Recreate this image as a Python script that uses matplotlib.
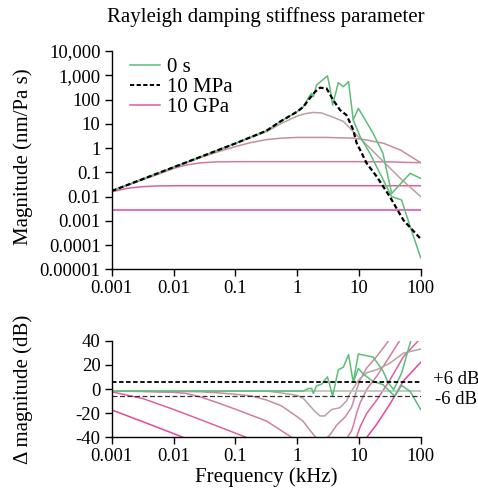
import matplotlib
matplotlib.use('Agg')
import matplotlib.pyplot as plt
from matplotlib.lines import Line2D
from matplotlib.ticker import FixedLocator, FixedFormatter, NullLocator

plt.rcParams['font.family'] = ['Liberation Serif', 'DejaVu Serif']
plt.rcParams['font.size'] = 13.5

# ---- top panel: magnitude (nm/Pa s) vs frequency (kHz) ----
ref_f = [0.001, 0.01, 0.1, 0.32, 0.53, 1.0, 1.26, 1.6, 1.95, 2.35, 3.0, 3.85, 4.95,
         6.3, 7.2, 8.1, 9.2, 10.5, 13.4, 19.5, 31.6, 52.5, 100]
ref_m = [0.017, 0.162, 1.55, 5.2, 12.3, 31.6, 50, 112, 209, 309, 288, 95, 37,
         23, 11, 5.6, 1.6, 0.83, 0.234, 0.066, 0.01, 0.00107, 0.00018]

green_f = [0.001, 0.01, 0.1, 0.32, 0.53, 1.0, 1.26, 1.43, 1.5, 1.72, 1.83, 2.07,
           2.5, 3.1, 3.4, 3.75, 4.65, 5.6, 6.8, 8.1, 9.8, 17, 24.5, 33.9, 67.6, 100]
green_m = [0.017, 0.162, 1.55, 5.2, 12.3, 31.6, 50, 89, 112, 182, 132, 398,
           600, 955, 300, 59, 500, 339, 550, 14.5, 43.7, 4.07, 0.6, 0.0135, 0.091, 0.056]

green2_f = [8.1, 10.5, 15.1, 21.9, 33.9, 49, 67.6, 100]
green2_m = [14.5, 2.95, 0.6, 0.091, 0.01, 0.0072, 0.00058, 0.00003]

damp_f = [
    [0.001, 0.01, 0.1, 0.32, 0.56, 1.0, 1.33, 1.83, 2.5, 3.85, 5.6, 8.1, 13.4, 25, 47, 100],
    [0.001, 0.01, 0.027, 0.05, 0.1, 0.18, 0.32, 0.56, 1.0, 3.0, 8.1, 13.4, 25, 47, 100],
    [0.001, 0.0032, 0.0056, 0.01, 0.016, 0.027, 0.05, 0.1, 1, 10, 30, 60, 100],
    [0.001, 0.0018, 0.0032, 0.0056, 0.01, 0.1, 100],
    [0.001, 100],
]
damp_m = [
    [0.017, 0.162, 1.55, 4.8, 10.5, 20.9, 26, 29.5, 28, 18.6, 12.6, 4.8, 1.35, 0.275, 0.056, 0.01],
    [0.017, 0.158, 0.40, 0.68, 1.15, 1.70, 2.24, 2.57, 2.75, 2.75, 2.57, 2.14, 1.58, 0.83, 0.25],
    [0.017, 0.05, 0.083, 0.145, 0.2, 0.245, 0.27, 0.275, 0.275, 0.275, 0.27, 0.257, 0.25],
    [0.0158, 0.022, 0.0257, 0.0275, 0.028, 0.028, 0.028],
    [0.0028, 0.0028],
]
damp_colors = ['#b9a2a2', '#c58da0', '#d47ba2', '#e0609e', '#e8459b']

# ---- bottom panel: delta magnitude (dB) ----
flat_f = [0.001, 100]
flat_db = [-1.7, -1.7]

dgreen_f = [0.001, 0.6, 1.26, 1.43, 1.5, 1.72, 1.83, 2.07, 2.5, 3.1, 3.4, 3.75, 4.65,
            5.6, 6.8, 8.1, 9.8, 17, 24.5, 30, 36.5, 49, 70]
dgreen_db = [-1.7, -1.7, -1.7, -0.3, 0.3, 0.5, -3.7, 2.7, 4.1, 10, 2.7, -6, 16,
             18, 28.5, 5.5, 29, 26.5, 15, 5, -0.5, 13, 41]
dgreen2_f = [8.1, 9.8, 12, 17, 24.5, 38, 49, 67.6, 100]
dgreen2_db = [5.5, 17, 12, 6.3, 3.6, -6, 3, -2, -17]

ddamp_f = [
    [0.001, 0.32, 0.53, 1.0, 1.26, 1.6, 1.95, 2.35, 2.8, 3.6, 4.9, 6.3, 7.2, 9.2, 10.5,
     13.4, 19.5, 31.6, 52.5, 100],
    [0.001, 0.01, 0.027, 0.05, 0.1, 0.18, 0.32, 0.56, 1.0, 1.26, 1.6, 1.95, 2.35, 2.8,
     3.4, 4.4, 6.0, 7.6, 8.1, 9.2, 10.5, 13.4, 19.5, 25, 31.6],
    [0.001, 0.0032, 0.0056, 0.01, 0.016, 0.027, 0.05, 0.1, 0.32, 1.0, 3.0, 6.0, 7.6,
     8.1, 9.2, 10.5, 13.4, 19.5, 31.6, 52.5],
    [0.001, 0.0032, 0.01, 0.032, 0.1, 0.15, 0.32, 1.0, 8.1, 9.2, 10.5, 13.4, 19.5,
     31.6, 52.5, 100],
    [0.001, 0.0032, 0.01, 0.0145, 0.032, 1.0, 10.5, 13.4, 19.5, 31.6, 52.5, 100],
]
ddamp_db = [
    [-1.7, -1.7, -3.1, -5.3, -7.7, -13.7, -18.7, -22.3, -22.3, -17, -15.5, -10, -3.5,
     5, 8.9, 13.5, 16, 21.3, 29.7, 33.1],
    [-1.7, -1.9, -2.3, -3.1, -4.3, -5.7, -9.1, -14, -22.9, -26.9, -33.9, -39.3, -42.7,
     -42.1, -38.1, -29.7, -23.1, -15.1, -10.9, -0.5, 7.9, 17.5, 27.1, 34.3, 41.3],
    [-1.7, -2.1, -2.5, -2.7, -3.7, -6.5, -11.1, -16.7, -26.5, -42.9, -60, -42.9, -34.7,
     -30.5, -19.9, -11.3, -0.3, 10.7, 27.1, 45],
    [-2.3, -7.9, -16.9, -26.7, -36.5, -40, -46.3, -62.7, -51.7, -39.7, -31.1, -20.1,
     -9.1, 7.3, 26.7, 42.1],
    [-17.3, -27.1, -36.9, -40.1, -46.7, -81, -51.1, -40.1, -29.1, -12.7, 6.7, 22.1],
]

x_ticks = [0.001, 0.01, 0.1, 1, 10, 100]
x_labels = ['0.001', '0.01', '0.1', '1', '10', '100']
y_ticks = [10000, 1000, 100, 10, 1, 0.1, 0.01, 0.001, 0.0001, 0.00001]
y_labels = ['10,000', '1,000', '100', '10', '1', '0.1', '0.01', '0.001', '0.0001', '0.00001']
db_ticks = [40, 20, 0, -20, -40]
db_labels = ['40', '20', '0', '-20', '-40']

green = '#5dbd7a'
label_size = 15

fig = plt.figure(figsize=(4.78, 4.96), dpi=100)
ax1 = fig.add_axes([0.2337, 0.457, 0.6464, 0.440])
ax2 = fig.add_axes([0.2337, 0.1183, 0.6464, 0.1948])

for ax in (ax1, ax2):
    ax.set_xscale('log')
    ax.set_xlim(0.001, 100)
    ax.xaxis.set_major_locator(FixedLocator(x_ticks))
    ax.xaxis.set_major_formatter(FixedFormatter(x_labels))
    ax.xaxis.set_minor_locator(NullLocator())
    ax.spines['top'].set_visible(False)
    ax.spines['right'].set_visible(False)
    for s in ('left', 'bottom'):
        ax.spines[s].set_linewidth(1.0)
    ax.tick_params(direction='out', length=5, width=1.0, pad=3)

# top
ax1.set_yscale('log')
ax1.set_ylim(0.00001, 10000)
ax1.yaxis.set_major_locator(FixedLocator(y_ticks))
ax1.yaxis.set_major_formatter(FixedFormatter(y_labels))
ax1.yaxis.set_minor_locator(NullLocator())

for f, m, c in reversed(list(zip(damp_f, damp_m, damp_colors))):
    ax1.plot(f, m, color=c, lw=1.1)
ax1.plot(green2_f, green2_m, color=green, lw=1.1)
ax1.plot(green_f, green_m, color=green, lw=1.1)
ax1.plot(ref_f, ref_m, color='black', lw=1.6, ls=(0, (2.2, 1.2)))
ax1.set_ylabel('Magnitude (nm/Pa s)', fontsize=label_size)
ax1.yaxis.set_label_coords(-0.255, 0.515)

handles = [Line2D([], [], color=green, lw=1.1),
           Line2D([], [], color='black', lw=1.4, ls=(0, (2.2, 1.2))),
           Line2D([], [], color='#e8559d', lw=1.1)]
ax1.legend(handles, ['0 s', '10 MPa', '10 GPa'], loc='upper left',
           bbox_to_anchor=(0.059, 0.97), frameon=False, handlelength=1.45,
           handletextpad=0.35, labelspacing=0.02, borderpad=0, borderaxespad=0,
           fontsize=label_size)

# bottom
ax2.set_ylim(-40, 40)
ax2.yaxis.set_major_locator(FixedLocator(db_ticks))
ax2.yaxis.set_major_formatter(FixedFormatter(db_labels))

for f, d, c in reversed(list(zip(ddamp_f, ddamp_db, damp_colors))):
    ax2.plot(f, d, color=c, lw=1.1)
ax2.plot(flat_f, flat_db, color='#b3c6b3', lw=1.2)
ax2.plot(dgreen2_f, dgreen2_db, color=green, lw=1.1)
ax2.plot(dgreen_f, dgreen_db, color=green, lw=1.1)
ax2.axhline(6, color='black', lw=1.3, ls=(0, (2.5, 1.4)))
ax2.axhline(-6, color='#333333', lw=0.9, ls=(0, (4, 2)))
ax2.text(1.0 + 12 / 309, 7.5, '+6 dB', transform=ax2.get_yaxis_transform(),
         ha='left', va='center', clip_on=False)
ax2.text(1.0 + 14 / 309, -8.3, '-6 dB', transform=ax2.get_yaxis_transform(),
         ha='left', va='center', clip_on=False)
ax2.set_ylabel('\u0394 magnitude (dB)', fontsize=label_size)
ax2.yaxis.set_label_coords(-0.255, 0.5)
ax2.set_xlabel('Frequency (kHz)', labelpad=1, fontsize=label_size)

fig.text(0.557, 1 - 17 / 496, 'Rayleigh damping stiffness parameter',
         ha='center', va='center', fontsize=label_size)

fig.savefig('out.png', dpi=100)
